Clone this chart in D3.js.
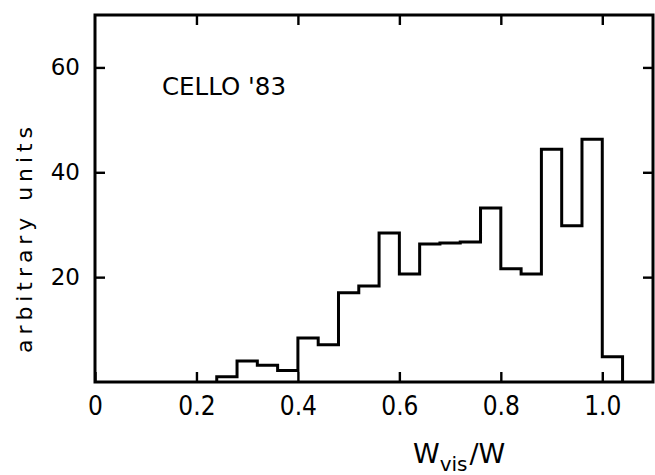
<!DOCTYPE html>
<html>
<head>
<meta charset="utf-8">
<script src="https://cdn.jsdelivr.net/npm/d3@7"></script>
<style>
  body { margin: 0; background: #fff; }
  svg { display: block; }
</style>
</head>
<body>
<div id="chart"></div>
<script>
(function() {
  // histogram bins (left edges) and heights
  var binEdges = [0.24, 0.28, 0.32, 0.36, 0.40, 0.44, 0.48, 0.52, 0.56, 0.60,
                  0.64, 0.68, 0.72, 0.76, 0.80, 0.84, 0.88, 0.92, 0.96, 1.00, 1.04];
  var binHeights = [1.0, 4.0, 3.2, 2.2, 8.4, 7.1, 17.0, 18.3, 28.4, 20.6,
                    26.3, 26.5, 26.7, 33.2, 21.6, 20.6, 44.4, 29.8, 46.3, 4.8];
  var xTicks = [0, 0.2, 0.4, 0.6, 0.8, 1.0];
  var xTickLabels = ["0", "0.2", "0.4", "0.6", "0.8", "1.0"];
  var yTicks = [20, 40, 60];

  var width = 655, height = 475;

  var svg = d3.select("#chart")
    .append("svg")
    .attr("width", width)
    .attr("height", height);

  var x = d3.scaleLinear()
    .domain([0, 1.1])
    .range([95, 653]);

  var y = d3.scaleLinear()
    .domain([0, 70])
    .range([382, 15]);

  // frame
  svg.append("rect")
    .attr("x", x(0)).attr("y", y(70))
    .attr("width", x(1.1) - x(0))
    .attr("height", y(0) - y(70))
    .attr("fill", "none")
    .attr("stroke", "#000")
    .attr("stroke-width", 3);

  var bottom = svg.append("g")
    .attr("transform", "translate(0," + y(0) + ")")
    .call(d3.axisBottom(x)
      .tickValues(xTicks)
      .tickFormat(function(d, i) { return xTickLabels[i] })
      .tickSizeInner(-10).tickSizeOuter(0).tickPadding(15));

  var top = svg.append("g")
    .attr("transform", "translate(0," + y(70) + ")")
    .call(d3.axisTop(x).tickValues(xTicks.slice(1))
      .tickFormat("").tickSizeInner(-10).tickSizeOuter(0));

  var left = svg.append("g")
    .attr("transform", "translate(" + x(0) + ",0)")
    .call(d3.axisLeft(y).tickValues(yTicks)
      .tickSizeInner(-10).tickSizeOuter(0).tickPadding(15));

  var right = svg.append("g")
    .attr("transform", "translate(" + x(1.1) + ",0)")
    .call(d3.axisRight(y).tickValues(yTicks)
      .tickFormat("").tickSizeInner(-10).tickSizeOuter(0));

  [bottom, top, left, right].forEach(function(g) {
    g.select(".domain").remove();
    g.selectAll(".tick line").attr("stroke", "#000").attr("stroke-width", 2.4);
  });

  bottom.selectAll("text")
    .attr("font-family", "'DejaVu Sans Condensed', 'DejaVu Sans', sans-serif")
    .attr("font-size", 26)
    .attr("fill", "#000");

  left.selectAll("text")
    .attr("font-family", "'DejaVu Sans', sans-serif")
    .attr("font-size", 23)
    .attr("fill", "#000");

  // histogram outline
  var pts = binEdges.map(function(e, i) {
    return [e, i < binHeights.length ? binHeights[i] : 0];
  });
  pts.unshift([binEdges[0], 0]);

  var line = d3.line()
    .x(function(d) { return x(d[0]) })
    .y(function(d) { return y(d[1]) })
    .curve(d3.curveStepAfter);

  svg.append("path")
    .datum(pts)
    .attr("d", line)
    .attr("fill", "none")
    .attr("stroke", "#000")
    .attr("stroke-width", 3)
    .attr("stroke-linejoin", "miter");

  // labels
  svg.append("text")
    .attr("x", 162).attr("y", 95)
    .attr("font-family", "'DejaVu Sans', sans-serif")
    .attr("font-size", 24.5)
    .text("CELLO '83");

  svg.append("text")
    .attr("transform", "translate(32,240) rotate(-90)")
    .attr("text-anchor", "middle")
    .attr("font-family", "'DejaVu Sans', sans-serif")
    .attr("font-size", 22)
    .attr("textLength", 226)
    .attr("lengthAdjust", "spacing")
    .text("arbitrary units");

  var xt = svg.append("text")
    .attr("x", 413).attr("y", 463)
    .attr("font-family", "'DejaVu Sans', sans-serif")
    .attr("font-size", 27);
  xt.append("tspan").text("W");
  xt.append("tspan").attr("font-size", 20).attr("dy", 8).text("vis");
  xt.append("tspan").attr("dx", 2).attr("dy", -8).text("/W");
})();
</script>
</body>
</html>
